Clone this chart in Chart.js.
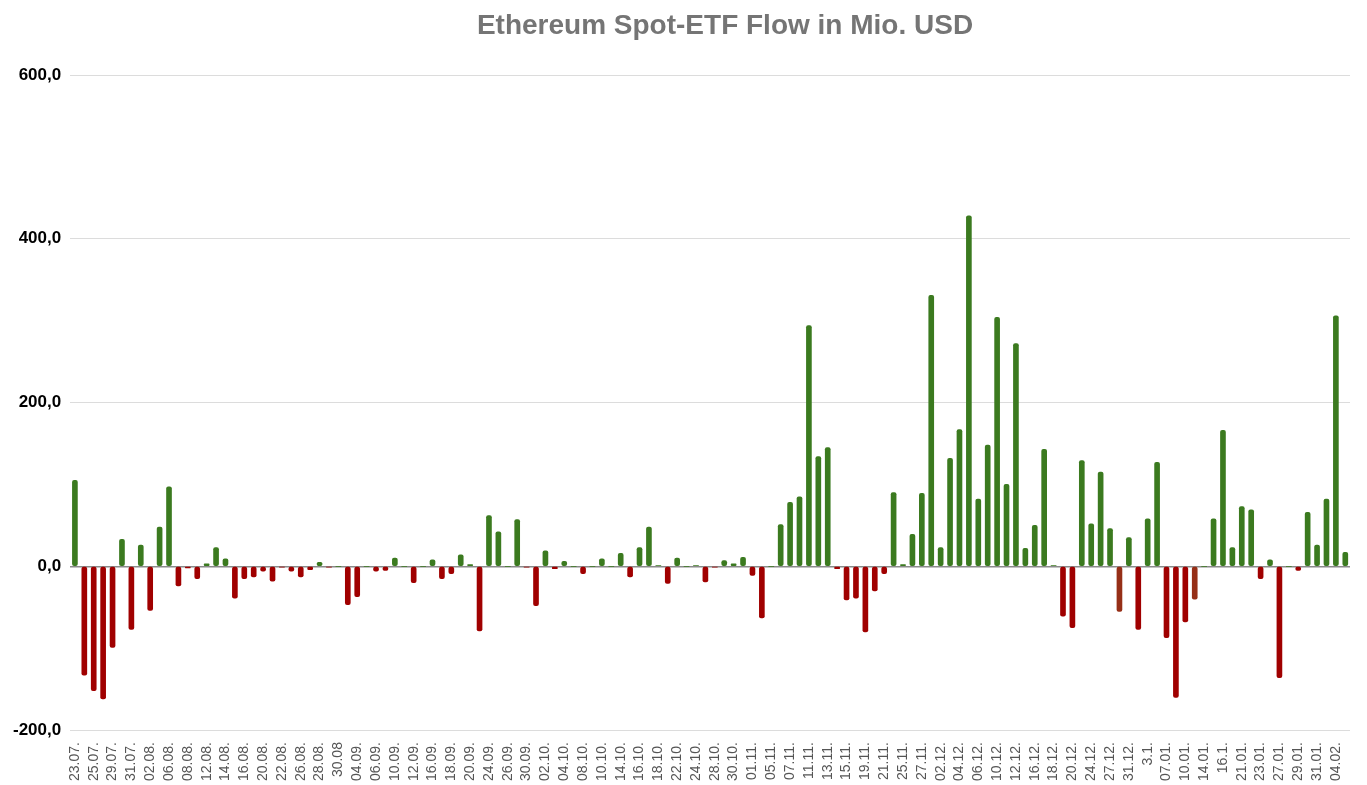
<!DOCTYPE html>
<html>
<head>
<meta charset="utf-8">
<script src="https://cdn.jsdelivr.net/npm/chart.js@4/dist/chart.umd.min.js"></script>
<style>
  html, body { margin: 0; padding: 0; background: #fff; }
  #wrap { position: relative; width: 1367px; height: 785px; }
  #title {
    position: absolute; top: 9px; left: 725px; transform: translateX(-50%);
    white-space: nowrap; margin: 0;
    font: bold 28px Arial, "Liberation Sans", sans-serif; color: #757575;
  }
</style>
</head>
<body>
<div id="wrap">
  <div id="title">Ethereum Spot-ETF Flow in Mio. USD</div>
  <canvas id="flowChart"></canvas>
</div>
<script>
// Trading days (23.07.2024 - 05.02.2025)
const dates = [
    '23.07.','24.07.','25.07.','26.07.','29.07.','30.07.','31.07.',
    '01.08.','02.08.','05.08.','06.08.','07.08.','08.08.','09.08.','12.08.','13.08.','14.08.','15.08.','16.08.',
    '19.08.','20.08.','21.08.','22.08.','23.08.','26.08.','27.08.','28.08.','29.08.','30.08',
    '03.09.','04.09.','05.09.','06.09.','09.09.','10.09.','11.09.','12.09.','13.09.','16.09.','17.09.','18.09.',
    '19.09.','20.09.','23.09.','24.09.','25.09.','26.09.','27.09.','30.09.',
    '01.10.','02.10.','03.10.','04.10.','07.10.','08.10.','09.10.','10.10.','11.10.','14.10.','15.10.','16.10.',
    '17.10.','18.10.','21.10.','22.10.','23.10.','24.10.','25.10.','28.10.','29.10.','30.10.','31.10.',
    '01.11.','04.11.','05.11.','06.11.','07.11.','08.11.','11.11.','12.11.','13.11.','14.11.','15.11.','18.11.',
    '19.11.','20.11.','21.11.','22.11.','25.11.','26.11.','27.11.','29.11.',
    '02.12.','03.12.','04.12.','05.12.','06.12.','09.12.','10.12.','11.12.','12.12.','13.12.','16.12.','17.12.',
    '18.12.','19.12.','20.12.','23.12.','24.12.','26.12.','27.12.','30.12.','31.12.',
    '02.01.','3.1.','06.01.','07.01.','08.01.','10.01.','13.01.','14.01.','15.01.','16.1.','17.01.','21.01.',
    '22.01.','23.01.','24.01.','27.01.','28.01.','29.01.','30.01.','31.01.',
    '03.02.','04.02.','05.02.'
];

// Daily net flow in Mio. USD
const flows = [
    105, -133, -152, -162, -99, 33, -77,
    26, -54, 48, 97, -24, -2, -15, 3, 23, 9, -39, -15,
    -13, -6, -18, -1, -6, -13, -4, 5, -1, 0,
    -47, -37, 0, -6, -5, 10, 0, -20, 0, 8, -15, -9,
    14, 2, -79, 62, 42, 0, 57, -1,
    -48, 19, -3, 6, 0, -9, 0, 9, 0, 16, -13, 23,
    48, 1, -21, 10, 0, 1, -19, -1, 7, 3, 11,
    -11, -63, 0, 51, 78, 85, 294, 134, 145, -3, -41, -39,
    -80, -30, -9, 90, 2, 39, 89, 331,
    23, 132, 167, 428, 82, 148, 304, 100, 272, 22, 50, 143,
    1, -61, -75, 129, 52, 115, 46, -55, 35,
    -77, 58, 127, -87, -160, -68, -40, 0, 58, 166, 23, 73,
    69, -15, 8, -136, 0, -5, 66, 26,
    82, 306, 17
];

// days drawn in a browner red in the source
const brownDays = ['30.12.', '13.01.'];

const yTicks = [-200, 0, 200, 400, 600];

const barColors = flows.map((v, i) => {
    if (brownDays.includes(dates[i])) return '#962f17';
    return v >= 0 ? '#3b7a1f' : '#a00000';
});

const ctx = document.getElementById('flowChart').getContext('2d');
const flowChart = new Chart(ctx, {
    type: 'bar',
    data: {
        labels: dates,
        datasets: [{
            label: 'Flow',
            data: flows,
            backgroundColor: barColors,
            barThickness: 5,
            borderRadius: 2,
            borderSkipped: false
        }]
    },
    options: {
        responsive: true,
        maintainAspectRatio: false,
        animation: false,
        layout: {
            padding: { left: 4, right: 17, top: 75, bottom: 0 }
        },
        scales: {
            x: {
                grid: { display: false },
                border: { display: false },
                ticks: {
                    autoSkip: false,
                    maxRotation: 90,
                    minRotation: 90,
                    padding: 4,
                    color: '#555',
                    font: { family: 'Arial, "Liberation Sans", sans-serif', size: 14 },
                    callback: function(value, index) {
                        return index % 2 === 0 ? dates[index] : '';
                    }
                }
            },
            y: {
                min: yTicks[0],
                max: yTicks[yTicks.length - 1],
                afterBuildTicks: function(axis) {
                    axis.ticks = yTicks.map(v => ({ value: v }));
                },
                border: { display: false },
                grid: {
                    drawTicks: false,
                    color: function(context) {
                        return context.tick && context.tick.value === 0 ? '#8a8a8a' : '#dcdcdc';
                    },
                    lineWidth: function(context) {
                        return context.tick && context.tick.value === 0 ? 1.5 : 1;
                    }
                },
                ticks: {
                    padding: 9,
                    color: '#000',
                    font: { family: 'Arial, "Liberation Sans", sans-serif', size: 17, weight: 'bold' },
                    callback: function(value) {
                        return value.toFixed(1).replace('.', ',');
                    }
                }
            }
        },
        plugins: {
            legend: { display: false },
            tooltip: { enabled: false },
            title: { display: false }
        }
    }
});
</script>
</body>
</html>
